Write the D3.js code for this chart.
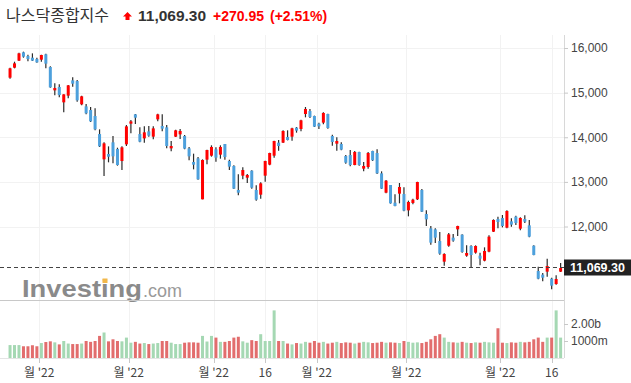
<!DOCTYPE html>
<html><head><meta charset="utf-8">
<script src="https://cdn.jsdelivr.net/npm/d3@7"></script>
<style>
body{margin:0;background:#fff;}
svg{display:block;font-family:"Liberation Sans",Arial,sans-serif;}
</style></head><body>
<svg id="c" width="631" height="383"></svg>
<script>
const title = "나스닥종합지수";
const lastValue = 11069.30, change = "+270.95", changePct = "(+2.51%)";
const opens  = [15335,15559,15716,15903,15820,15783,15753,15738,15858,15574,15051,15126,14782,14932,15275,15260,14737,14692,14610,14476,14072,13505,13624,13886,13736,13467,13841,14304,14513,14072,13975,14132,14013,14401,14252,14222,13751,14013,14065,14028,13751,13445,13527,12609,13498,13587,13729,13610,13849,13468,13356,12818,13139,13094,13251,12818,12713,13139,13386,13587,13879,13879,14006,14013,14215,14185,14521,14588,14476,14304,14327,14521,14028,13856,13849,13580,13602,13378,13669,13296,13333,13692,13647,13191,12758,12930,12534,12736,12728,12362,12527,12609,12818,12280,11959,11936,11675,11212,11570,11750,11936,11817,11346,11563,11414,11346,11234,11436,11884,12168,12190,11974,12116,12220,11951,12168,12026,11570,11003,10921,10988,10831,10711,10988];
const highs  = [15559,15693,15895,15918,15850,15880,15783,15850,15873,15589,15208,15185,14961,15171,15342,15283,14932,14745,14678,14648,14177,13886,13796,14028,13766,13796,14274,14386,14521,14222,14244,14252,14244,14528,14513,14274,13916,14170,14185,14050,13781,13632,13557,13505,13722,13819,13774,13819,13849,13498,13371,13169,13326,13177,13259,12923,12990,13475,13655,13924,13938,14155,14155,14215,14230,14394,14678,14633,14484,14327,14558,14529,14058,13998,13886,13602,13714,13692,13677,13445,13669,13699,13729,13236,13042,12930,12721,12975,12878,12579,12624,13005,12840,12362,12011,11959,11877,11399,11854,11832,12019,11824,11578,11578,11578,11414,11533,11802,12161,12220,12258,12362,12183,12243,12205,12250,12146,11578,11100,10958,11279,10853,10906,11182];
const lows   = [15312,15544,15708,15783,15701,15708,15671,15693,15544,15111,14939,14894,14558,14872,15133,14797,14715,14513,14341,14155,13781,13131,13438,13415,13363,13266,13804,14087,14297,13886,13878,14013,13953,14356,14132,13751,13684,14005,13960,13729,13482,13281,13049,12609,13393,13565,13453,13520,13498,13266,12840,12698,13057,12975,12848,12579,12624,13005,13371,13543,13699,13871,13930,13924,14103,14133,14446,14431,14230,14185,14290,14192,13811,13699,13707,13408,13348,13371,13363,13236,13296,13468,13177,12840,12743,12512,12452,12519,12340,12228,12497,12594,12325,12011,11593,11630,11369,11122,11548,11660,11787,11414,11324,11070,11391,11130,11219,11421,11877,11959,11981,11959,11996,12034,11914,12078,11757,11354,10816,10771,10876,10592,10696,10980];
const closes = [15544,15656,15880,15805,15753,15716,15678,15843,15649,15118,15103,14946,14961,15163,15200,14827,14917,14536,14356,14177,13796,13863,13564,13572,13378,13774,14244,14356,14438,13901,14110,14035,14199,14513,14192,13804,13804,14155,14140,13744,13572,13385,13057,13490,13714,13782,13543,13782,13557,13341,12848,12758,13266,13154,12870,12601,12967,13468,13647,13916,13804,14140,13938,14200,14148,14379,14633,14454,14237,14245,14544,14207,13894,13916,13722,13430,13378,13669,13378,13356,13647,13483,13191,12848,13027,12519,12459,12885,12355,12549,12601,12997,12332,12161,11638,11750,11391,11384,11824,11683,12011,11429,11406,11361,11563,11279,11451,11772,12146,12101,12011,12347,12041,12078,12190,12108,11772,11361,10831,10853,11115,10674,10823,11069.30];
const volumes = [0.76,0.76,0.76,0.69,0.69,0.75,0.69,0.88,0.94,0.98,0.92,0.80,1.00,0.85,0.82,0.82,0.85,1.00,0.95,1.00,1.30,1.50,0.98,1.10,1.00,0.98,1.20,0.90,0.95,0.85,0.88,0.82,0.85,0.88,1.00,1.00,0.90,0.82,0.82,0.90,0.92,0.92,0.90,1.30,0.97,1.30,1.20,0.95,0.95,1.00,1.20,1.25,0.98,0.90,1.05,1.00,1.40,1.00,1.00,2.80,1.00,1.00,0.85,0.80,0.88,0.85,0.95,0.90,1.00,0.90,0.95,0.85,0.90,0.95,0.88,0.92,0.90,0.85,0.90,0.95,0.92,0.88,0.90,0.95,0.90,0.92,0.90,0.88,1.00,0.95,0.90,0.92,0.88,0.95,1.10,1.30,1.40,1.20,0.95,0.92,0.90,0.95,0.90,0.88,0.92,0.90,0.95,0.92,0.90,1.75,0.90,0.88,0.92,0.90,0.95,0.92,0.95,1.10,1.20,0.95,1.20,1.20,2.80,1.20].map(v => v * 1e9);
const priceTicks = [12000,13000,14000,15000,16000];
const volumeTicks = [1e9, 2e9];
const volumeTickLabels = ["1000m", "2.00b"];
const xTickIndex = [7,27,46,57,69,89,110,121];
const xTickLabels = ["월 '22","월 '22","월 '22","16","월 '22","월 '22","월 '22","16"];
const xTickKind = ["month","month","month","day","month","month","month","day"];

const W = 631, H = 383;
const plotRight = 564;
const svg = d3.select("#c");
const n = closes.length;
const x = d3.scaleBand().domain(d3.range(n)).range([7.06, 563.6]).padding(0.33);
const step = x.step(), bw = x.bandwidth();
const cx = i => x(i) + bw / 2;
const y = d3.scaleLinear().domain([12000, 16000]).range([226.5, 48]);
const yv = d3.scaleLinear().domain([0, 2e9]).range([358, 324]);

const gridColor = "#f2f2f2";
const tickX = (k, j) => xTickKind[j] === "month" ? cx(k) - step / 2 : cx(k);

// grids
const grid = svg.append("g");
grid.selectAll(".hg").data(priceTicks).join("line")
  .attr("x1", 0).attr("x2", plotRight).attr("y1", d => Math.round(y(d)) + 0.5).attr("y2", d => Math.round(y(d)) + 0.5)
  .attr("stroke", gridColor);
grid.selectAll(".vg").data(xTickIndex).join("line")
  .attr("x1", (d, j) => Math.round(tickX(d, j)) + 0.5).attr("x2", (d, j) => Math.round(tickX(d, j)) + 0.5)
  .attr("y1", 35).attr("y2", 358).attr("stroke", gridColor);

// watermark
const wm = svg.append("g");
wm.append("text").attr("x", 22).attr("y", 297).attr("font-size", 24).attr("font-weight", "bold")
  .attr("fill", "#8a8a8a").attr("textLength", 120).attr("lengthAdjust", "spacingAndGlyphs").text("Investing");
wm.append("text").attr("x", 143).attr("y", 297).attr("font-size", 19)
  .attr("fill", "#9a9a9a").attr("textLength", 39).attr("lengthAdjust", "spacingAndGlyphs").text(".com");
wm.append("rect").attr("x", 102.5).attr("y", 278.5).attr("width", 5).attr("height", 4.5).attr("fill", "#f2b84b");

// pane borders
svg.append("line").attr("x1", 0).attr("x2", plotRight).attr("y1", 300.5).attr("y2", 300.5).attr("stroke", "#c8c8c8");
svg.append("line").attr("x1", plotRight + 0.5).attr("x2", plotRight + 0.5).attr("y1", 35).attr("y2", 358).attr("stroke", "#d8d8d8");
svg.append("line").attr("x1", 0).attr("x2", plotRight).attr("y1", 358.5).attr("y2", 358.5).attr("stroke", "#e4e4e4");

// candles
const up = i => closes[i] >= opens[i];
const cg = svg.append("g");
cg.selectAll(".w").data(d3.range(n)).join("line")
  .attr("x1", i => cx(i)).attr("x2", i => cx(i))
  .attr("y1", i => y(highs[i])).attr("y2", i => y(lows[i]))
  .attr("stroke", "#2b2b2b").attr("stroke-width", 1.2);
cg.selectAll(".b").data(d3.range(n)).join("rect")
  .attr("x", i => x(i)).attr("width", bw)
  .attr("y", i => y(Math.max(opens[i], closes[i])))
  .attr("height", i => Math.max(1.5, Math.abs(y(opens[i]) - y(closes[i]))))
  .attr("fill", i => up(i) ? "#ff0000" : "#4da0dc");

// volume
svg.append("g").selectAll("rect").data(d3.range(n)).join("rect")
  .attr("x", i => x(i)).attr("width", bw)
  .attr("y", i => yv(volumes[i])).attr("height", i => yv(0) - yv(volumes[i]))
  .attr("fill", i => up(i) ? "#a5d8b3" : "#e26d6d");

// price axis
const pa = svg.append("g").attr("transform", `translate(${plotRight},0)`)
  .call(d3.axisRight(y).tickValues(priceTicks).tickFormat(d3.format(",")).tickSize(4).tickPadding(3));
pa.select(".domain").remove();
pa.selectAll("line").attr("stroke", "#c8c8c8");
pa.selectAll("text").attr("font-size", 12).attr("fill", "#444").attr("font-family", "Liberation Sans, Arial, sans-serif");

// volume axis
const va = svg.append("g").attr("transform", `translate(${plotRight},0)`)
  .call(d3.axisRight(yv).tickValues(volumeTicks).tickFormat((d, j) => volumeTickLabels[j]).tickSize(4).tickPadding(3));
va.select(".domain").remove();
va.selectAll("line").attr("stroke", "#c8c8c8");
va.selectAll("text").attr("font-size", 12).attr("fill", "#444").attr("font-family", "Liberation Sans, Arial, sans-serif");

// x axis labels
const xa = svg.append("g");
xa.selectAll("line").data(xTickIndex).join("line")
  .attr("x1", (d, j) => Math.round(tickX(d, j)) + 0.5).attr("x2", (d, j) => Math.round(tickX(d, j)) + 0.5)
  .attr("y1", 358).attr("y2", 363).attr("stroke", "#c8c8c8");
xa.selectAll("text").data(xTickIndex).join("text")
  .attr("x", (d, j) => tickX(d, j)).attr("y", 377).attr("text-anchor", "middle")
  .attr("font-size", 12).attr("fill", "#444")
  .attr("font-family", "'Noto Sans CJK KR', 'Liberation Sans', sans-serif")
  .text((d, j) => xTickLabels[j]);

// last value line + label
const ly = Math.round(y(lastValue)) - 0.5;
svg.append("line").attr("x1", 0).attr("x2", plotRight).attr("y1", ly).attr("y2", ly)
  .attr("stroke", "#444").attr("stroke-dasharray", "4,3");
svg.append("rect").attr("x", plotRight).attr("y", ly - 8).attr("width", W - plotRight).attr("height", 16).attr("fill", "#222");
svg.append("text").attr("x", plotRight + 6).attr("y", ly + 4.5).attr("font-size", 12.5).attr("font-weight", "bold")
  .attr("fill", "#fff").text(d3.format(",.2f")(lastValue));

// header
const hd = svg.append("g");
hd.append("text").attr("x", 6).attr("y", 21).attr("font-size", 16).attr("fill", "#333")
  .attr("font-family", "'Noto Sans CJK KR', sans-serif").text(title);
hd.append("path").attr("d", "M127.5,12 L132,16.5 L129.5,16.5 L129.5,20 L125.5,20 L125.5,16.5 L123,16.5 Z").attr("fill", "#f00");
hd.append("text").attr("x", 138).attr("y", 21).attr("font-size", 15.5).attr("font-weight", "bold").attr("fill", "#333")
  .text(d3.format(",.2f")(lastValue));
hd.append("text").attr("x", 213).attr("y", 21).attr("font-size", 14).attr("font-weight", "bold").attr("fill", "#f00").text(change);
hd.append("text").attr("x", 270).attr("y", 21).attr("font-size", 14).attr("font-weight", "bold").attr("fill", "#f00").text(changePct);
</script>
</body></html>
